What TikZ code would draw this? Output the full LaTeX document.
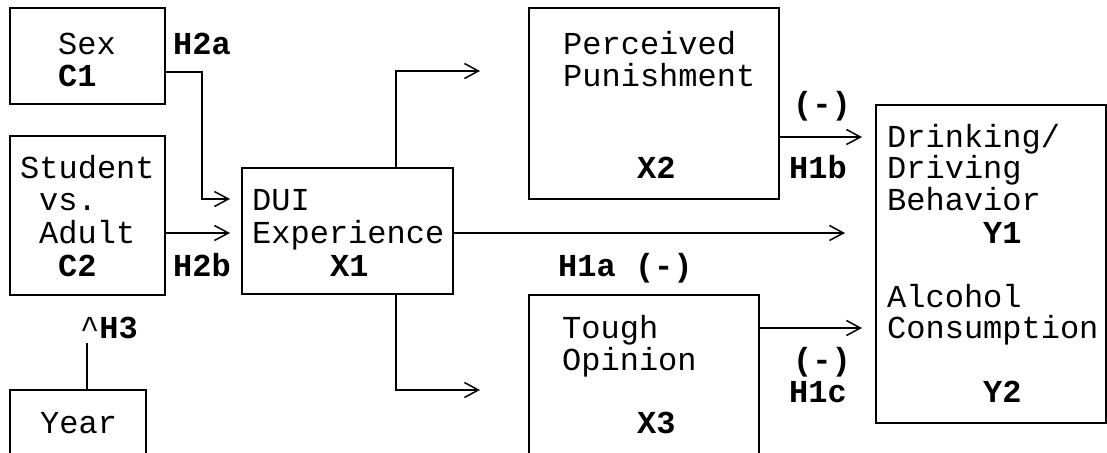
\documentclass[tikz,border=0pt]{standalone}
\usepackage{fontspec}
\setmonofont{Liberation Mono}
\usetikzlibrary{arrows.meta}
\begin{document}
\begin{tikzpicture}[x=1pt,y=-1pt,
  box/.style={draw, line width=1.6pt, inner sep=0pt, anchor=north west},
  txt/.style={anchor=base west, inner sep=0pt, font=\ttfamily\fontsize{32}{34}\selectfont},
  btxt/.style={txt, font=\ttfamily\bfseries\fontsize{32}{34}\selectfont},
  conn/.style={line width=1.5pt, -{Straight Barb[length=14pt,width=15pt,line width=1.5pt]}},
  plain/.style={line width=1.5pt}]
\useasboundingbox (0,0) rectangle (1107,452);
\clip (0,0) rectangle (1107,452);
% boxes
\node[box, minimum width=155pt, minimum height=96pt]  (sex)  at (9,7) {};
\node[box, minimum width=155pt, minimum height=159pt] (stud) at (9,135) {};
\node[box, minimum width=136pt, minimum height=90pt]  (year) at (9,389) {};
\node[box, minimum width=211pt, minimum height=126pt] (dui)  at (241,167) {};
\node[box, minimum width=250pt, minimum height=191pt] (x2)   at (528,7) {};
\node[box, minimum width=230pt, minimum height=180pt] (x3)   at (528,294) {};
\node[box, minimum width=230pt, minimum height=318pt] (yb)   at (875,104) {};
% texts
\node[txt]  (sexT)  at (58,55)  {Sex};
\node[btxt] (c1T)   at (58,86)  {C1};
\node[btxt] (h2aT)  at (173,55) {H2a};
\node[txt]  (studT) at (20,178) {Student};
\node[txt]  (vsT)   at (39,210) {vs.};
\node[txt]  (adT)   at (39,243) {Adult};
\node[btxt] (c2T)   at (58,276) {C2};
\node[btxt] (h2bT)  at (173,276) {H2b};
\node[txt]  (h3T)   at (80,338) {\textasciicircum\textbf{H3}};
\node[txt]  (yearT) at (40,433) {Year};
\node[txt]  (duiT)  at (252,210) {DUI};
\node[txt]  (expT)  at (252,243) {Experience};
\node[btxt] (x1T)   at (330,276) {X1};
\node[txt]  (percT) at (563,55) {Perceived};
\node[txt]  (punT)  at (563,86) {Punishment};
\node[btxt] (x2T)   at (637,178) {X2};
\node[btxt] (negB)  at (793,114) {(-)};
\node[btxt] (h1bT)  at (789,178) {H1b};
\node[btxt] (h1aT)  at (558,276) {H1a (-)};
\node[txt]  (toT)   at (562,338) {Tough};
\node[txt]  (opT)   at (562,370) {Opinion};
\node[btxt] (x3T)   at (637,433) {X3};
\node[btxt] (negC)  at (793,370) {(-)};
\node[btxt] (h1cT)  at (789,402) {H1c};
\node[txt]  (drT)   at (887,147) {Drinking/};
\node[txt]  (dvT)   at (887,178) {Driving};
\node[txt]  (beT)   at (887,210) {Behavior};
\node[btxt] (y1T)   at (983,243) {Y1};
\node[txt]  (alT)   at (887,307) {Alcohol};
\node[txt]  (coT)   at (887,338) {Consumption};
\node[btxt] (y2T)   at (983,402) {Y2};
% arrow ends
\coordinate (tipA) at (230,199);
\coordinate (tipB) at (230,233);
\coordinate (tipC) at (480,71);
\coordinate (tipD) at (480,390);
\coordinate (tipE) at (845,233);
\coordinate (tipF) at (862,137);
\coordinate (tipG) at (862,328);
\coordinate (h3foot) at (87,343);
% connectors
\draw[conn] ([yshift=-16pt]sex.east) -| ([xshift=-28pt]tipA) -- (tipA);
\draw[conn] (stud.east |- tipB) -- (tipB);
\draw[conn] ([xshift=48.5pt]dui.north) |- (tipC);
\draw[conn] ([xshift=48.5pt]dui.south) |- (tipD);
\draw[conn] (dui.east |- tipE) -- (tipE);
\draw[conn] (x2.east |- tipF) -- (tipF);
\draw[conn] (x3.east |- tipG) -- (tipG);
\draw[plain] (year.north -| h3foot) -- (h3foot);
\end{tikzpicture}
\end{document}
